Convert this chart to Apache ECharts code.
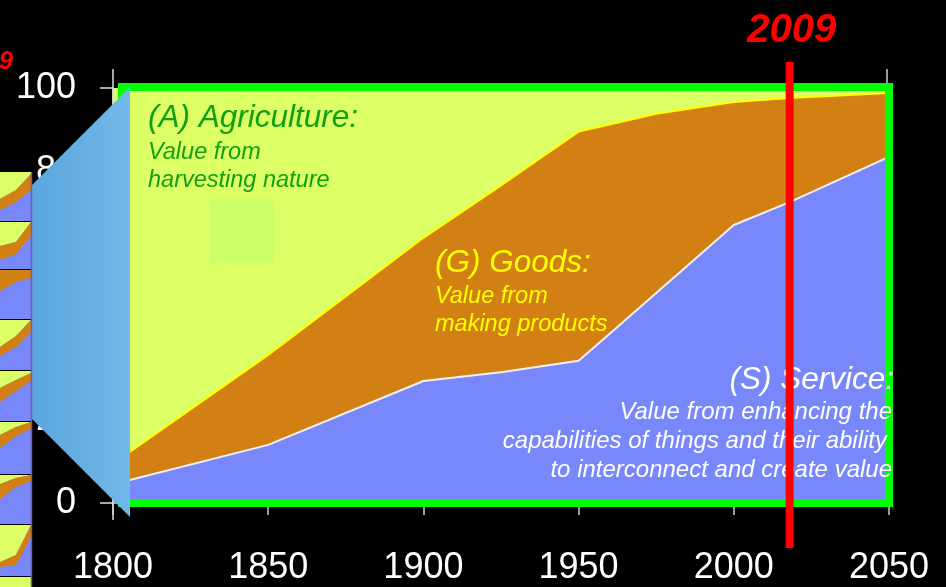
<!DOCTYPE html>
<html><head><meta charset="utf-8">
<script src="https://cdn.jsdelivr.net/npm/echarts@6/dist/echarts.min.js"></script>
<style>html,body{margin:0;padding:0;background:#000;overflow:hidden}#c{width:946px;height:587px}</style>
</head><body><div id="c"></div>
<script>
// ---- data (shares in %) ----
const years = [1800, 1850, 1900, 1925, 1950, 1960, 1975, 2000, 2018, 2050];
const service = [4.5, 14.0, 29.4, 31.5, 34.3, 40.8, 50.6, 67.0, 72.5, 83.4];
const goods = [5.0, 21.7, 34.5, 45.0, 55.2, 50.4, 43.2, 29.6, 25.1, 15.4];
const agriculture = [90.5, 64.3, 36.1, 23.5, 10.5, 8.8, 6.2, 3.4, 2.4, 1.2];
const xTickLabels = ['1800', '1850', '1900', '1950', '2000', '2050'];
const yTickLabels = ['0', '20', '40', '60', '80', '100'];
const markerYear = 2018;
const markerLabel = '2009';

const FONT = 'Liberation Sans, Arial, sans-serif';
const C_AGR = '#ddff66', C_GOODS = '#d28014', C_SERV = '#7888fa';

const chart = echarts.init(document.getElementById('c'));
// cumulative tops (stack computed here: service at bottom, then goods, then agriculture)
const cumGoods = service.map((v, i) => v + goods[i]);
const cumAll = cumGoods.map((v, i) => v + agriculture[i]);
const pairs = arr => years.map((y, i) => [y, +arr[i].toFixed(2)]);

chart.setOption({
  backgroundColor: '#000',
  animation: false,
  grid: {left: 113, right: 57, top: 88, bottom: 84},
  xAxis: {
    type: 'value', min: 1800, max: 2050, interval: 50, offset: 5,
    axisLine: {lineStyle: {color: '#aaaaaa', width: 1}},
    axisTick: {show: true, length: 12, lineStyle: {color: '#cccccc', width: 1.5}},
    splitLine: {show: false},
    axisLabel: {color: '#fff', fontSize: 36, fontFamily: FONT, margin: 42,
      formatter: v => xTickLabels[xTickLabels.indexOf(String(v))] || ''}
  },
  yAxis: {
    type: 'value', min: 0, max: 100, interval: 20,
    axisLine: {show: true, lineStyle: {color: '#dddddd', width: 1.5}},
    axisTick: {show: true, length: 13, lineStyle: {color: '#dddddd', width: 1.5}},
    splitLine: {show: false},
    axisLabel: {color: '#fff', fontSize: 36, fontFamily: FONT, margin: 37,
      formatter: v => yTickLabels[yTickLabels.indexOf(String(v))] || ''}
  },
  series: [
    {name: 'Agriculture', type: 'line', data: pairs(cumAll), showSymbol: false, z: 2,
      lineStyle: {width: 0}, areaStyle: {color: C_AGR, opacity: 1, origin: 'start'}},
    {name: 'Goods', type: 'line', data: pairs(cumGoods), showSymbol: false, z: 3,
      lineStyle: {color: '#ffff00', width: 2}, areaStyle: {color: C_GOODS, opacity: 1, origin: 'start'}},
    {name: 'Service', type: 'line', data: pairs(service), showSymbol: false, z: 4,
      lineStyle: {color: '#f4eeee', width: 2}, areaStyle: {color: C_SERV, opacity: 1, origin: 'start'}}
  ]
});

const px = (x, y) => chart.convertToPixel({gridIndex: 0}, [x, y]);
const g = [];
const p0 = px(1800, 0), p100 = px(2050, 100);
const L = p0[0], B = p0[1], R = p100[0], T = p100[1];

// light green square decoration
g.push({type: 'rect', z: 50, shape: {x: 210, y: 199, width: 64, height: 64}, style: {fill: '#ccff66'}});

// green frame
g.push({type: 'rect', z: 60, shape: {x: L + 9, y: T - 1, width: R - L - 9, height: B - T + 1},
  style: {fill: 'none', stroke: '#00ff00', lineWidth: 8}});

// axis extensions (cross style)
g.push({type: 'line', z: 61, shape: {x1: L, y1: T - 19, x2: L, y2: B + 17}, style: {stroke: '#dddddd', lineWidth: 1.5}});
g.push({type: 'line', z: 61, shape: {x1: R - 2, y1: T - 19, x2: R - 2, y2: T - 5}, style: {stroke: '#cccccc', lineWidth: 1.5}});

// texts
const txt = (text, x, y, size, color, align, weight) => g.push({type: 'text', z: 70,
  style: {text, x, y, fill: color, font: (weight || 'normal') + ' italic ' + size + 'px ' + FONT,
    textAlign: align || 'left', textVerticalAlign: 'middle'}});
txt('(A) Agriculture:', 148, 118, 31.5, '#12a012');
txt('Value from', 148, 152, 23.5, '#12a012');
txt('harvesting nature', 148, 180, 23.5, '#12a012');
txt('(G) Goods:', 435, 263, 31.5, '#ffff00');
txt('Value from', 435, 296, 23.5, '#ffff00');
txt('making products', 435, 324, 23.5, '#ffff00');
txt('(S) Service:', 894, 380, 31.5, '#ffffff', 'right');
txt('Value from enhancing the', 892, 412, 24, '#ffffff', 'right');
txt('capabilities of things and their ability', 887, 441, 24, '#ffffff', 'right');
txt('to interconnect and create value', 892, 470, 24, '#ffffff', 'right');

// left trapezoid (zoom callout)
g.push({type: 'polygon', z: 80, shape: {points: [[32, 185], [130, 87], [130, 517], [32, 419]]},
  style: {fill: new echarts.graphic.LinearGradient(0, 0, 1, 0, [{offset: 0, color: '#5aa6df'}, {offset: 1, color: '#72b8e9'}])}});

// thumbnails strip at far left
const thumbTops = [172, 222, 270, 320, 371, 422, 475, 525, 577];
const thumbBands = [
  [[27, 18, 2], [38, 30, 18], C_AGR],
  [[24, 20, 0], [38, 32, 14], C_AGR],
  [[0, 0, 0], [21, 12, 8], C_GOODS],
  [[27, 16, 0], [36, 27, 12], C_AGR],
  [[17, 9, 2], [31, 20, 10], C_AGR],
  [[13, 5, 0], [26, 14, 7], C_AGR],
  [[9, 3, 0], [24, 12, 6], C_AGR],
  [[37, 30, 0], [42, 40, 12], C_AGR],
  [[40, 40, 40], [48, 48, 48], C_AGR]
];
const xs = [0, 16, 31];
thumbTops.forEach((y0, i) => {
  const h = (thumbTops[i + 1] || 627) - y0 - 1;
  const [a, b, top] = thumbBands[i];
  g.push({type: 'rect', z: 80, shape: {x: 0, y: y0, width: 31, height: h}, style: {fill: C_SERV}});
  g.push({type: 'polygon', z: 81, shape: {points: [[0, y0], [31, y0], [31, y0 + a[2]], [16, y0 + a[1]], [0, y0 + a[0]]]}, style: {fill: top}});
  g.push({type: 'polygon', z: 81, shape: {points: xs.map((x, k) => [x, y0 + a[k]]).concat(xs.slice().reverse().map((x, k) => [x, y0 + b[2 - k]]))}, style: {fill: C_GOODS}});
});
g.push({type: 'line', z: 82, shape: {x1: 31.5, y1: 172, x2: 31.5, y2: 587}, style: {stroke: '#7a5a9a', lineWidth: 1.5}});

// 2009 marker line
const mx = px(markerYear, 0)[0];
g.push({type: 'rect', z: 90, shape: {x: mx - 4, y: 62, width: 8, height: 486}, style: {fill: '#ff0000'}});
g.push({type: 'text', z: 90, style: {text: markerLabel, x: mx + 2, y: 31, fill: '#ff0000',
  font: 'bold italic 40px ' + FONT, textAlign: 'center', textVerticalAlign: 'middle'}});
g.push({type: 'text', z: 90, style: {text: markerLabel, x: 13, y: 62, fill: '#ff0000',
  font: 'bold italic 25px ' + FONT, textAlign: 'right', textVerticalAlign: 'middle'}});

chart.setOption({graphic: g});
</script>
</body></html>
